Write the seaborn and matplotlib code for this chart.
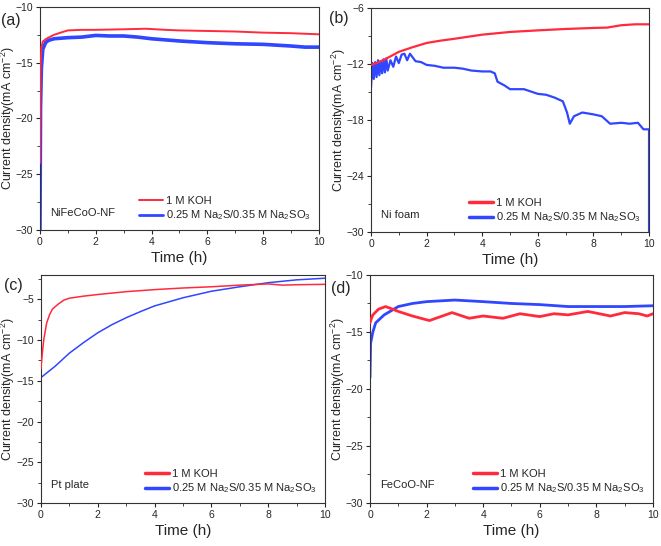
import numpy as np
import pandas as pd
import matplotlib
matplotlib.use("Agg")
import matplotlib.pyplot as plt
import seaborn as sns
from matplotlib.ticker import AutoMinorLocator

sns.set_style("ticks")
plt.rcParams['font.family'] = ['Liberation Sans', 'DejaVu Sans']
plt.rcParams['mathtext.fontset'] = 'custom'
plt.rcParams['mathtext.rm'] = 'Liberation Sans'

RED = '#ff2a3c'
BLUE = '#3046ff'
KOH_LABEL = '1 M KOH'
NA_LABEL = '0.25 M Na$_2$S/0.35 M Na$_2$SO$_3$'

# (a) NiFeCoO-NF
a_koh_t = [0, 0.02, 0.05, 0.1, 0.2, 0.3, 0.5, 0.8, 1.0, 1.5, 2.0, 3.0, 3.8, 4.5, 5.0, 6.0, 7.0, 8.0, 9.0, 10.0]
a_koh_j = [-24, -15.5, -13.6, -13.1, -12.9, -12.75, -12.5, -12.25, -12.1, -12.05, -12.05, -12.0, -11.95, -12.05, -12.1, -12.15, -12.2, -12.3, -12.35, -12.45]
a_na_t = [0, 0.02, 0.05, 0.1, 0.2, 0.3, 0.5, 1.0, 1.5, 2.0, 2.5, 3.0, 3.5, 4.0, 4.5, 5.0, 6.0, 7.0, 8.0, 9.0, 9.5, 10.0]
a_na_j = [-30, -19, -15.5, -13.8, -13.2, -13.0, -12.85, -12.75, -12.7, -12.55, -12.6, -12.6, -12.7, -12.85, -12.95, -13.05, -13.2, -13.3, -13.35, -13.5, -13.6, -13.6]

# (b) Ni foam
b_koh_t = [0, 0.2, 0.5, 1.0, 1.5, 2.0, 2.5, 3.0, 4.0, 5.0, 6.0, 7.0, 8.0, 8.5, 9.0, 9.5, 10.0]
b_koh_j = [-12.1, -11.9, -11.5, -10.7, -10.2, -9.75, -9.5, -9.3, -8.86, -8.57, -8.4, -8.25, -8.14, -8.1, -7.85, -7.75, -7.75]
b_na_t = [0, 0.05, 0.1, 0.15, 0.2, 0.25, 0.3, 0.35, 0.4, 0.45, 0.5, 0.55, 0.6, 0.7, 0.8, 0.9, 1.0, 1.1, 1.2,
          1.3, 1.4, 1.5, 1.6, 1.8, 2.0, 2.3, 2.6, 3.0, 3.3, 3.6, 4.0, 4.3, 4.45, 4.55, 4.8, 5.0, 5.5, 6.0, 6.3,
          6.6, 6.9, 7.05, 7.15, 7.3, 7.6, 8.0, 8.3, 8.6, 9.0, 9.3, 9.6, 9.8, 10.0, 10.0]
b_na_j = [-14.5, -11.9, -13.6, -11.8, -13.4, -11.6, -13.2, -11.7, -13.0, -11.5, -12.9, -11.4, -12.7, -11.6,
          -12.3, -11.2, -11.9, -11.0, -10.9, -11.6, -10.9, -11.3, -11.7, -11.8, -12.1, -12.2, -12.4, -12.4,
          -12.5, -12.7, -12.8, -12.8, -13.0, -13.9, -14.3, -14.7, -14.7, -15.2, -15.3, -15.6, -16.0, -17.2,
          -18.4, -17.6, -17.2, -17.4, -17.6, -18.4, -18.3, -18.4, -18.3, -19.0, -19.0, -30]

# (c) Pt plate
c_koh_t = [0, 0.05, 0.1, 0.2, 0.3, 0.4, 0.6, 0.8, 1.0, 1.5, 2.0, 3.0, 4.0, 5.0, 6.0, 7.0, 8.0, 8.5, 9.0, 10.0]
c_koh_j = [-13.5, -11.5, -9.9, -7.9, -6.9, -6.2, -5.6, -5.1, -4.85, -4.6, -4.4, -4.05, -3.8, -3.6, -3.45, -3.25, -3.1, -3.25, -3.2, -3.15]
c_na_t = [0, 0.5, 1.0, 1.5, 2.0, 2.5, 3.0, 3.5, 4.0, 5.0, 6.0, 7.0, 8.0, 9.0, 10.0]
c_na_j = [-14.6, -13.2, -11.6, -10.3, -9.1, -8.1, -7.25, -6.5, -5.8, -4.8, -4.0, -3.45, -2.95, -2.6, -2.4]

# (d) FeCoO-NF
d_koh_t = [0, 0.05, 0.1, 0.3, 0.55, 0.8, 1.0, 1.5, 2.1, 2.5, 2.9, 3.5, 4.0, 4.7, 5.3, 6.0, 6.5, 7.0, 7.7, 8.5, 9.0, 9.5, 9.8, 10.0]
d_koh_j = [-14.2, -13.8, -13.5, -13.0, -12.77, -13.0, -13.2, -13.6, -14.0, -13.65, -13.3, -13.8, -13.6, -13.8, -13.4, -13.65, -13.4, -13.5, -13.2, -13.6, -13.3, -13.4, -13.6, -13.4]
d_na_t = [0, 0.02, 0.1, 0.2, 0.5, 1.0, 1.5, 2.0, 3.0, 4.0, 5.0, 6.0, 7.0, 8.0, 9.0, 10.0]
d_na_j = [-19, -16.0, -15.0, -14.2, -13.5, -12.77, -12.5, -12.34, -12.2, -12.34, -12.5, -12.6, -12.77, -12.77, -12.77, -12.7]

panels = [
    dict(tag='(a)', name='NiFeCoO-NF', koh=(a_koh_t, a_koh_j), na=(a_na_t, a_na_j),
         ylim=(-30, -10), yticks=[-30, -25, -20, -15, -10], rect=[0.0605, 0.5788, 0.422, 0.4084],
         lw=(1.4, 2.6), leg_lw=(1.4, 2.0), tagpos=(0.002, 0.962)),
    dict(tag='(b)', name='Ni foam', koh=(b_koh_t, b_koh_j), na=(b_na_t, b_na_j),
         ylim=(-30, -6), yticks=[-30, -24, -18, -12, -6], rect=[0.5613, 0.5751, 0.4206, 0.4103],
         lw=(1.6, 1.6), leg_lw=(2.5, 2.5), tagpos=(0.497, 0.966)),
    dict(tag='(c)', name='Pt plate', koh=(c_koh_t, c_koh_j), na=(c_na_t, c_na_j),
         ylim=(-30, -2), yticks=[-30, -25, -20, -15, -10, -5], rect=[0.062, 0.0788, 0.4297, 0.4176],
         lw=(1.1, 1.1), leg_lw=(2.5, 2.5), tagpos=(0.006, 0.477)),
    dict(tag='(d)', name='FeCoO-NF', koh=(d_koh_t, d_koh_j), na=(d_na_t, d_na_j),
         ylim=(-30, -10), yticks=[-30, -25, -20, -15, -10], rect=[0.5598, 0.0788, 0.428, 0.4176],
         lw=(2.0, 2.0), leg_lw=(2.5, 2.5), tagpos=(0.501, 0.471)),
]

fig = plt.figure(figsize=(6.61, 5.46), dpi=100)

for p in panels:
    ax = fig.add_axes(p['rect'])
    df_koh = pd.DataFrame({'t': p['koh'][0], 'j': p['koh'][1]})
    df_na = pd.DataFrame({'t': p['na'][0], 'j': p['na'][1]})
    sns.lineplot(data=df_koh, x='t', y='j', ax=ax, color=RED, lw=p['lw'][0],
                 estimator=None, sort=False, label=KOH_LABEL, zorder=3)
    sns.lineplot(data=df_na, x='t', y='j', ax=ax, color=BLUE, lw=p['lw'][1],
                 estimator=None, sort=False, label=NA_LABEL, zorder=2)
    ax.set_xlim(0, 10)
    ax.set_ylim(*p['ylim'])
    ax.set_xticks([0, 2, 4, 6, 8, 10])
    ax.set_yticks(p['yticks'])
    ax.xaxis.set_minor_locator(AutoMinorLocator(2))
    ax.yaxis.set_minor_locator(AutoMinorLocator(2))
    ax.tick_params(which='major', direction='out', length=3, width=0.8, labelsize=7.5, pad=2)
    ax.tick_params(which='minor', direction='out', length=2, width=0.6)
    for s in ax.spines.values():
        s.set_linewidth(0.8)
        s.set_color('#333333')
    ax.set_xlabel('Time (h)', fontsize=11, labelpad=3)
    ax.set_ylabel('Current density(mA cm$^{-2}$)', fontsize=9)
    ax.yaxis.set_label_coords(-0.083, 0.5)
    leg = ax.legend(loc='lower right', frameon=False, fontsize=8, handlelength=2.2,
                    handletextpad=0.3, borderaxespad=0.3, labelspacing=0.2)
    for h, w in zip(leg.get_lines(), p['leg_lw']):
        h.set_linewidth(w)
    ax.text(0.035, 0.055, p['name'], transform=ax.transAxes, fontsize=8, va='bottom')
    fig.text(p['tagpos'][0], p['tagpos'][1], p['tag'], fontsize=11.5, va='center')

fig.savefig('out.png', dpi=100)
